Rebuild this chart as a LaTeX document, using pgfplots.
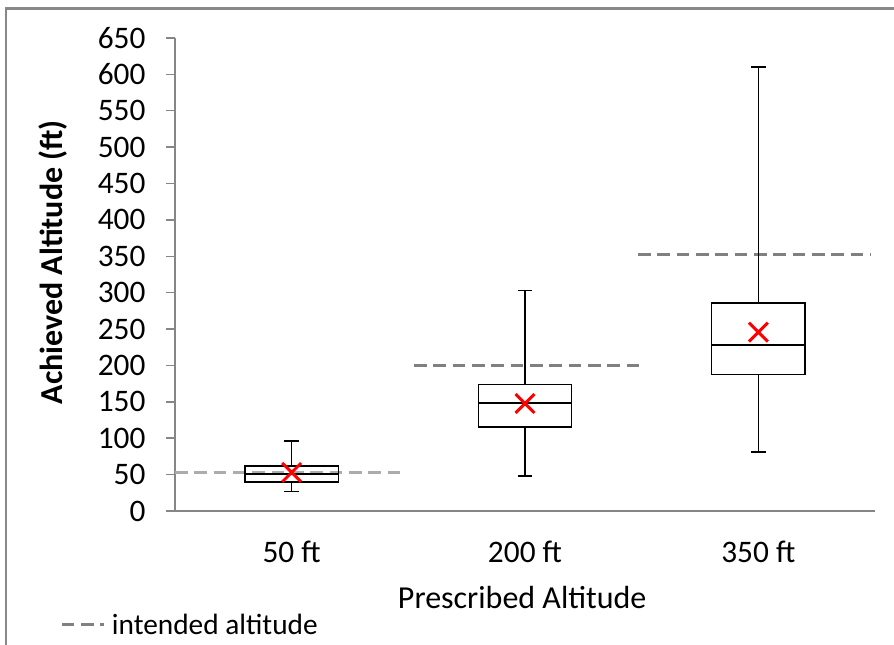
\documentclass[border=0pt]{standalone}
\usepackage{pgfplots}
\pgfplotsset{compat=1.18}
\usepackage{fontspec}
\setmainfont{Carlito}

\definecolor{framegray}{RGB}{136,136,136}
\definecolor{axisgray}{RGB}{134,134,134}
\definecolor{dashdark}{RGB}{128,128,128}
\definecolor{dashlight}{RGB}{172,172,172}

\begin{document}
\begin{tikzpicture}
\useasboundingbox (0pt,0pt) rectangle (670.5pt,483.75pt);
% outer chart frame (right and bottom edges are cut off in the original)
\draw[framegray, line width=1.9pt] (4.5pt,-8pt) -- (4.5pt,477.4pt) -- (680pt,477.4pt);
\begin{axis}[
    at={(131.25pt,100.5pt)}, anchor=south west,
    scale only axis, width=525pt, height=354.75pt,
    xmin=0.5, xmax=3.5, ymin=0, ymax=650,
    axis x line*=bottom, axis y line*=left,
    axis line style={axisgray, line width=1.4pt},
    xtick={1,2,3}, xticklabels={50 ft, 200 ft, 350 ft},
    major x tick style={draw=none},
    extra x ticks={0.5,1.5,2.5,3.5}, extra x tick labels={},
    extra x tick style={major tick length=7.5pt, tick style={axisgray, line width=1.1pt}},
    ytick={0,50,...,650},
    tick align=outside,
    major tick length=7pt,
    y tick style={axisgray, line width=1.1pt},
    /pgf/number format/assume math mode=true,
    tick label style={font=\fontsize{23.5}{27}\selectfont},
    yticklabel style={anchor=east, inner sep=0pt, xshift=-15pt},
    xticklabel style={anchor=center, yshift=-24pt},
    ylabel={Achieved Altitude (ft)},
    ylabel style={at={(axis description cs:-0.174,0.526)}, anchor=center,
        font=\fontsize{24}{28}\selectfont\bfseries},
    xlabel={Prescribed Altitude},
    xlabel style={at={(axis description cs:0.496,-0.182)}, anchor=center,
        font=\fontsize{24}{28}\selectfont},
    legend style={draw=none, fill=none, at={(axis description cs:-0.17,-0.241)},
        anchor=west, font=\fontsize{22}{25}\selectfont},
    legend cell align=left,
    legend image code/.code={\draw[#1] (0pt,0pt) -- (31.5pt,0pt); \path (34.5pt,0pt);},
    unbounded coords=jump,
]
% intended altitude
\addplot[dashlight, line width=2.25pt, dash pattern=on 9.5pt off 5pt, forget plot]
    coordinates {(0.5,53) (1.486,53)};
\addplot[dashdark, line width=2.25pt, dash pattern=on 9.5pt off 5pt]
    coordinates {(1.524,200) (2.506,200)};
\addlegendentry{intended altitude}
\addplot[dashdark, line width=2.25pt, dash pattern=on 9.5pt off 5pt, forget plot]
    coordinates {(2.484,353) (3.479,353)};

% boxes: box, median, whiskers and caps
% 50 ft: whiskers 26.5 / 96.4, quartiles 39.8 / 61.7, median 50.7
\addplot[black, line width=1pt, line cap=rect, forget plot] coordinates {
    (0.8,39.8) (1.2,39.8) (1.2,61.7) (0.8,61.7) (0.8,39.8) (1,nan)
    (0.8,50.7) (1.2,50.7) (1,nan)
    (1,61.7) (1,96.4) (1,nan)
    (0.972,96.4) (1.028,96.4) (1,nan)
    (1,39.8) (1,26.5) (1,nan)
    (0.972,26.5) (1.028,26.5)
};
% 200 ft
\addplot[black, line width=1pt, line cap=rect, forget plot] coordinates {
    (1.8,115.6) (2.2,115.6) (2.2,173.7) (1.8,173.7) (1.8,115.6) (2,nan)
    (1.8,148.5) (2.2,148.5) (2,nan)
    (2,173.7) (2,303) (2,nan)
    (1.972,303) (2.028,303) (2,nan)
    (2,115.6) (2,48) (2,nan)
    (1.972,48) (2.028,48)
};
% 350 ft
\addplot[black, line width=1pt, line cap=rect, forget plot] coordinates {
    (2.8,187.8) (3.2,187.8) (3.2,286) (2.8,286) (2.8,187.8) (3,nan)
    (2.8,228) (3.2,228) (3,nan)
    (3,286) (3,610) (3,nan)
    (2.972,610) (3.028,610) (3,nan)
    (3,187.8) (3,80.9) (3,nan)
    (2.972,80.9) (3.028,80.9)
};

% means
\addplot[only marks, mark=x, mark size=10pt, red, line width=2.2pt, forget plot]
    coordinates {(1,53) (2,147.7) (3,245.8)};
\end{axis}
\end{tikzpicture}
\end{document}
